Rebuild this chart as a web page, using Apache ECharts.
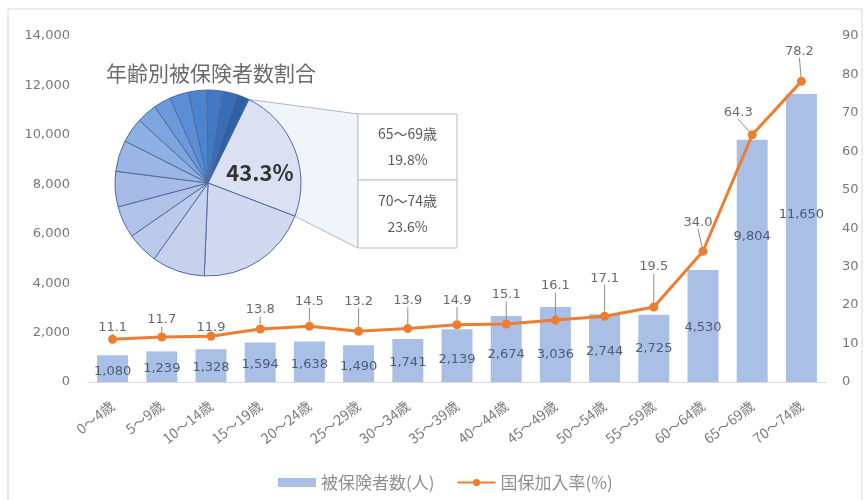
<!DOCTYPE html>
<html>
<head>
<meta charset="utf-8">
<script src="https://cdn.jsdelivr.net/npm/echarts@6/dist/echarts.min.js"></script>
<style>
html,body{margin:0;padding:0;background:#fff;}
#chart{width:864px;height:500px;}
</style>
</head>
<body>
<div id="chart"></div>
<script>
// ---- data ----
const categories = ['0～4歳','5～9歳','10～14歳','15～19歳','20～24歳','25～29歳','30～34歳','35～39歳','40～44歳','45～49歳','50～54歳','55～59歳','60～64歳','65～69歳','70～74歳'];
const insured = [1080,1239,1328,1594,1638,1490,1741,2139,2674,3036,2744,2725,4530,9804,11650];
const rate = [11.1,11.7,11.9,13.8,14.5,13.2,13.9,14.9,15.1,16.1,17.1,19.5,34.0,64.3,78.2];
const leftTicks = {min:0, max:14000, interval:2000};
const rightTicks = {min:0, max:90, interval:10};
const pieTitle = '年齢別被保険者数割合';
const pieShare = '43.3%';
const callouts = [['65～69歳','19.8%'],['70～74歳','23.6%']];
const seriesNames = ['被保険者数(人)','国保加入率(%)'];

// ---- label placement tweaks (styles) ----
const barLabelOffset = [3,2,2,2,3,3,2,4,6,10,4,0,2,-24,-23];
const lineLabelDy = [-1,-6,2,-8,-14,-19,-17,-13,-18,-23,-27,-29,-18,-11,-19];
const lineLabelDx = [0,0,0,0,0,0,0,0,0,0,0,0,-5,-14,-2];

const fmt = v => String(v).replace(/\B(?=(\d{3})+(?!\d))/g, ',');

// pie colours: light for oldest to dark for youngest
const stops = ['#dbe1f3','#c9d3ee','#b6c5ea','#a4b9e5','#8fb0e2','#6f9cdb','#5489d3','#3f76c3','#2f60a8'];
function lerpColor(a,b,t){
  const pa=[1,3,5].map(i=>parseInt(a.substr(i,2),16));
  const pb=[1,3,5].map(i=>parseInt(b.substr(i,2),16));
  return 'rgb('+pa.map((x,k)=>Math.round(x+(pb[k]-x)*t)).join(',')+')';
}
function gradColor(t){
  const s=t*(stops.length-1); const i=Math.min(Math.floor(s),stops.length-2);
  return lerpColor(stops[i],stops[i+1],s-i);
}
const n = categories.length;
const pieData = categories.map((c,i)=>({name:c, value:insured[i]})).reverse()
  .map((d,k)=>Object.assign(d,{itemStyle:{color:gradColor(k/(n-1))}}));

const total = insured.reduce((a,b)=>a+b,0);
const pieCenter=[208,183], pieR=93, startCW=26; // degrees clockwise from top
function piePt(deg){const r=deg*Math.PI/180;return [pieCenter[0]+pieR*Math.sin(r), pieCenter[1]-pieR*Math.cos(r)];}
const pStart = piePt(startCW);
const pEnd = piePt(startCW + 360*insured[n-1]/total);
const boxX=358, boxW=99, box1Y=114, boxH=66, box2H=68;

const chart = echarts.init(document.getElementById('chart'));
const font = '"Noto Sans CJK JP", "Noto Sans", sans-serif';
const numFont = '"DejaVu Sans", sans-serif';
chart.setOption({
  animation:false,
  textStyle:{fontFamily:font},
  grid:{left:88, right:38, top:36, bottom:118},
  legend:{
    left:273, top:469, itemGap:22, itemWidth:38, itemHeight:9,
    textStyle:{color:'#8f8f8f', fontSize:17, fontFamily:font},
    data:[{name:seriesNames[0], icon:'rect'},{name:seriesNames[1]}]
  },
  xAxis:{
    type:'category', data:categories,
    axisLine:{show:true, lineStyle:{color:'#d9d9d9'}},
    axisTick:{show:false},
    axisLabel:{rotate:38, margin:22, color:'#7a7a7a', fontSize:14, interval:0}
  },
  yAxis:[
    {type:'value', min:leftTicks.min, max:leftTicks.max, interval:leftTicks.interval,
     splitLine:{show:false}, axisLine:{show:false}, axisTick:{show:false},
     axisLabel:{color:'#777', fontSize:13, fontFamily:numFont, margin:18, formatter:v=>fmt(v)}},
    {type:'value', min:rightTicks.min, max:rightTicks.max, interval:rightTicks.interval,
     splitLine:{show:false}, axisLine:{show:false}, axisTick:{show:false},
     axisLabel:{color:'#777', fontSize:13, fontFamily:numFont, margin:16}}
  ],
  series:[
    {name:seriesNames[0], type:'bar', yAxisIndex:0, barWidth:'63%',
     itemStyle:{color:'#aabfe5'},
     label:{show:true, position:'inside', color:'#4d5b77', fontSize:13, fontFamily:numFont, formatter:p=>fmt(p.value)},
     data:insured.map((v,i)=>({value:v, label:{offset:[0,barLabelOffset[i]]}}))},
    {name:seriesNames[1], type:'line', yAxisIndex:1, data:rate,
     symbol:'circle', symbolSize:9,
     lineStyle:{color:'#ed7d31', width:3}, itemStyle:{color:'#ed7d31'},
     label:{show:true, position:'top', distance:0, color:'#6a6a6a', fontSize:13, fontFamily:numFont, formatter:p=>p.value.toFixed(1)},
     labelLine:{show:true, lineStyle:{color:'#8c8c8c', width:1}},
     labelLayout:p=>({dx:lineLabelDx[p.dataIndex], dy:lineLabelDy[p.dataIndex]})},
    {type:'pie', silent:true, center:pieCenter, radius:pieR, startAngle:90-startCW, clockwise:true,
     label:{show:false}, labelLine:{show:false}, z:5,
     itemStyle:{borderColor:'#4f6b9e', borderWidth:1},
     data:pieData}
  ],
  graphic:[
    {type:'rect', shape:{x:8,y:9,width:854,height:495}, style:{fill:'none', stroke:'#d9d9d9', lineWidth:1}, z:-10, silent:true},
    {type:'polygon', shape:{points:[pStart,[boxX,box1Y],[boxX,box1Y+boxH+box2H],pEnd]}, style:{fill:'rgba(214,223,243,0.35)', stroke:'#a9b7d2', lineWidth:1}, z:1, silent:true},
    {type:'text', left:106, top:63, style:{text:pieTitle, fontSize:21, fill:'#6a6a6a', fontFamily:font}, z:10},
    {type:'text', x:260, y:173, style:{text:pieShare, fontSize:22, fontWeight:'bold', fill:'#333', align:'center', verticalAlign:'middle', fontFamily:font}, z:10},
    {type:'rect', shape:{x:boxX,y:box1Y,width:boxW,height:boxH}, style:{fill:'#fff', stroke:'#bfbfbf', lineWidth:1}, z:10},
    {type:'rect', shape:{x:boxX,y:box1Y+boxH,width:boxW,height:box2H}, style:{fill:'#fff', stroke:'#bfbfbf', lineWidth:1}, z:10},
    {type:'text', x:boxX+boxW/2, y:box1Y+20, style:{text:callouts[0][0], fontSize:14, fill:'#595959', align:'center', verticalAlign:'middle', fontFamily:font}, z:11},
    {type:'text', x:boxX+boxW/2, y:box1Y+46, style:{text:callouts[0][1], fontSize:14, fill:'#595959', align:'center', verticalAlign:'middle', fontFamily:font}, z:11},
    {type:'text', x:boxX+boxW/2, y:box1Y+boxH+21, style:{text:callouts[1][0], fontSize:14, fill:'#595959', align:'center', verticalAlign:'middle', fontFamily:font}, z:11},
    {type:'text', x:boxX+boxW/2, y:box1Y+boxH+47, style:{text:callouts[1][1], fontSize:14, fill:'#595959', align:'center', verticalAlign:'middle', fontFamily:font}, z:11}
  ]
});
</script>
</body>
</html>
